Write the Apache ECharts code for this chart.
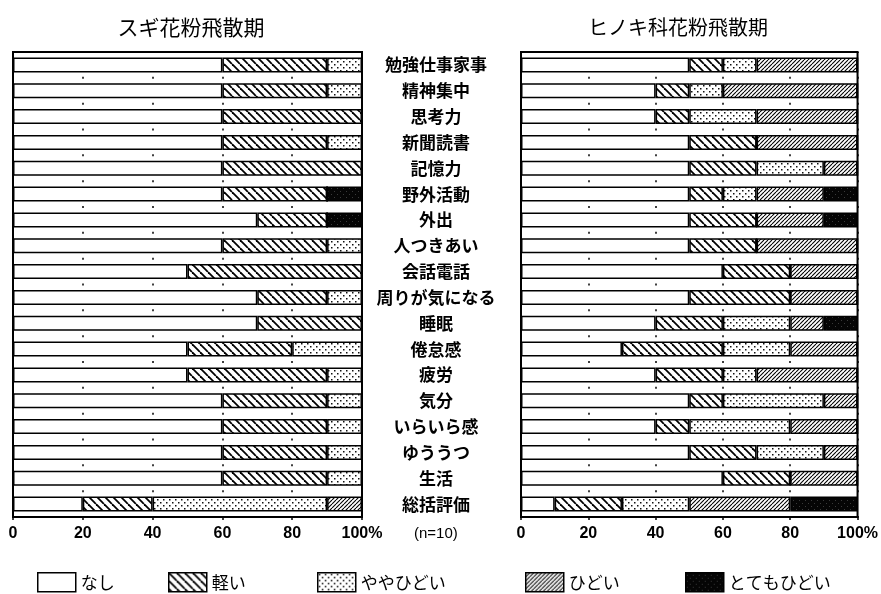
<!DOCTYPE html>
<html>
<head>
<meta charset="utf-8">
<script src="https://cdn.jsdelivr.net/npm/echarts@6/dist/echarts.min.js"></script>
<style>
  html, body { margin: 0; padding: 0; background: #fff; }
  #chart { width: 881px; height: 594px; }
</style>
</head>
<body>
<div id="chart"></div>
<script>
// Symptom items (top to bottom)
const categories = ['勉強仕事家事', '精神集中', '思考力', '新聞読書', '記憶力', '野外活動', '外出', '人つきあい',
  '会話電話', '周りが気になる', '睡眠', '倦怠感', '疲労', '気分', 'いらいら感', 'ゆううつ', '生活', '総括評価'];

// Severity levels
const levels = ['なし', '軽い', 'ややひどい', 'ひどい', 'とてもひどい'];

// スギ花粉飛散期 (%)
const sugiNashi   = [60, 60, 60, 60, 60, 60, 70, 60, 50, 70, 70, 50, 50, 60, 60, 60, 60, 20];
const sugiKarui   = [30, 30, 40, 30, 40, 30, 20, 30, 50, 20, 30, 30, 40, 30, 30, 30, 30, 20];
const sugiYaya    = [10, 10,  0, 10,  0,  0,  0, 10,  0, 10,  0, 20, 10, 10, 10, 10, 10, 50];
const sugiHidoi   = [ 0,  0,  0,  0,  0,  0,  0,  0,  0,  0,  0,  0,  0,  0,  0,  0,  0, 10];
const sugiTotemo  = [ 0,  0,  0,  0,  0, 10, 10,  0,  0,  0,  0,  0,  0,  0,  0,  0,  0,  0];

// ヒノキ科花粉飛散期 (%)
const hinokiNashi  = [50, 40, 40, 50, 50, 50, 50, 50, 60, 50, 40, 30, 40, 50, 40, 50, 60, 10];
const hinokiKarui  = [10, 10, 10, 20, 20, 10, 20, 20, 20, 30, 20, 30, 20, 10, 10, 20, 20, 20];
const hinokiYaya   = [10, 10, 20,  0, 20, 10,  0,  0,  0,  0, 20, 20, 10, 30, 30, 20,  0, 20];
const hinokiHidoi  = [30, 40, 30, 30, 10, 20, 20, 30, 20, 20, 10, 20, 30, 10, 20, 10, 20, 30];
const hinokiTotemo = [ 0,  0,  0,  0,  0, 10, 10,  0,  0,  0, 10,  0,  0,  0,  0,  0,  0, 20];

// x-axis ticks
const xTicks = [0, 20, 40, 60, 80, 100];

const sugiData = [sugiNashi, sugiKarui, sugiYaya, sugiHidoi, sugiTotemo];
const hinokiData = [hinokiNashi, hinokiKarui, hinokiYaya, hinokiHidoi, hinokiTotemo];

// ---- fill patterns for each severity level ----
function tile(w, h, draw) {
  const c = document.createElement('canvas');
  c.width = w; c.height = h;
  const g = c.getContext('2d');
  draw(g, w, h);
  return c;
}
const patWhite = '#ffffff';
const patBackslash = tile(8, 8, (g, w, h) => {
  g.fillStyle = '#fff'; g.fillRect(0, 0, w, h);
  g.strokeStyle = '#000'; g.lineWidth = 1.8;
  for (const k of [-8, 0, 8]) { g.beginPath(); g.moveTo(k, 0); g.lineTo(k + 8, 8); g.stroke(); }
});
const patDots = tile(6, 6, (g, w, h) => {
  g.fillStyle = '#fff'; g.fillRect(0, 0, w, h);
  g.fillStyle = '#111';
  g.fillRect(1, 1, 1.5, 1.5);
  g.fillRect(4, 4, 1.5, 1.5);
});
const patSlash = tile(4, 4, (g, w, h) => {
  g.fillStyle = '#fff'; g.fillRect(0, 0, w, h);
  g.strokeStyle = '#000'; g.lineWidth = 1.1;
  for (const k of [-4, 0, 4]) { g.beginPath(); g.moveTo(k, 4); g.lineTo(k + 4, 0); g.stroke(); }
});
const patDark = tile(6, 6, (g, w, h) => {
  g.fillStyle = '#050505'; g.fillRect(0, 0, w, h);
  g.fillStyle = '#3a3a3a';
  g.fillRect(1, 2, 1, 1);
  g.fillRect(4, 5, 1, 1);
});
const fills = [
  patWhite,
  { image: patBackslash, repeat: 'repeat' },
  { image: patDots, repeat: 'repeat' },
  { image: patSlash, repeat: 'repeat' },
  { image: patDark, repeat: 'repeat' }
];

const jpFont = '"Noto Sans CJK JP", "Noto Sans", sans-serif';
const numFont = '"Liberation Sans", Arial, sans-serif';

const grids = [
  { left: 13, top: 52, width: 349, height: 465 },
  { left: 521, top: 52, width: 341, height: 465 }
];

function xAxisFor(idx) {
  return {
    type: 'value', gridIndex: idx, min: 0, max: 100, interval: 20,
    axisLine: { show: true, lineStyle: { color: '#000', width: 2 } },
    axisTick: { show: true, length: 3, lineStyle: { color: '#000', width: 1.5 } },
    axisLabel: {
      color: '#000', fontSize: 16, fontWeight: 'bold', fontFamily: numFont, margin: 9,
      formatter: v => xTicks.includes(v) ? (v === 100 ? '100%' : String(v)) : ''
    },
    splitLine: { show: true, lineStyle: { color: '#000', width: 1.5, type: [2, 23.833], dashOffset: 1 } }
  };
}

function yAxisFor(idx, showLabels) {
  return {
    type: 'category', gridIndex: idx, data: categories, inverse: true,
    axisLine: { show: true, lineStyle: { color: '#000', width: 2 } },
    axisTick: { show: false },
    axisLabel: showLabels ? {
      show: true, color: '#000', fontSize: 17, fontWeight: 'bold', fontFamily: jpFont,
      align: 'center', margin: 85
    } : { show: false },
    splitLine: { show: false }
  };
}

const series = [];
[sugiData, hinokiData].forEach((set, gi) => {
  set.forEach((values, li) => {
    series.push({
      name: levels[li], type: 'bar', stack: 'g' + gi,
      xAxisIndex: gi, yAxisIndex: gi, barWidth: 15,
      data: values,
      itemStyle: { color: fills[li], borderColor: '#000', borderWidth: 1.5 },
      emphasis: { disabled: true }, silent: true
    });
  });
});

const legendLeft = [32, 163, 312, 520, 680];
const legends = levels.map((name, i) => ({
  data: [name], left: legendLeft[i], top: 567, icon: 'rect',
  itemWidth: 38, itemHeight: 19, selectedMode: false,
  itemStyle: { borderColor: '#000', borderWidth: 1.5 },
  textStyle: { color: '#000', fontSize: 17, fontFamily: jpFont }
}));

const chart = echarts.init(document.getElementById('chart'), null, { renderer: 'canvas' });
chart.setOption({
  backgroundColor: '#fff',
  animation: false,
  title: [
    { text: 'スギ花粉飛散期', left: 186, top: 12, textAlign: 'center',
      textStyle: { color: '#000', fontSize: 21, fontWeight: 'normal', fontFamily: jpFont } },
    { text: 'ヒノキ科花粉飛散期', left: 673, top: 12, textAlign: 'center',
      textStyle: { color: '#000', fontSize: 20, fontWeight: 'normal', fontFamily: jpFont } }
  ],
  grid: grids.map(g => Object.assign({ show: true, borderColor: '#000', borderWidth: 2, backgroundColor: '#fff' }, g)),
  xAxis: [xAxisFor(0), xAxisFor(1)],
  yAxis: [yAxisFor(0, false), yAxisFor(1, true)],
  legend: legends,
  graphic: [
    { type: 'text', left: 414, top: 526,
      style: { text: '(n=10)', fill: '#000', font: '15px ' + numFont } }
  ],
  series: series
});
</script>
</body>
</html>
